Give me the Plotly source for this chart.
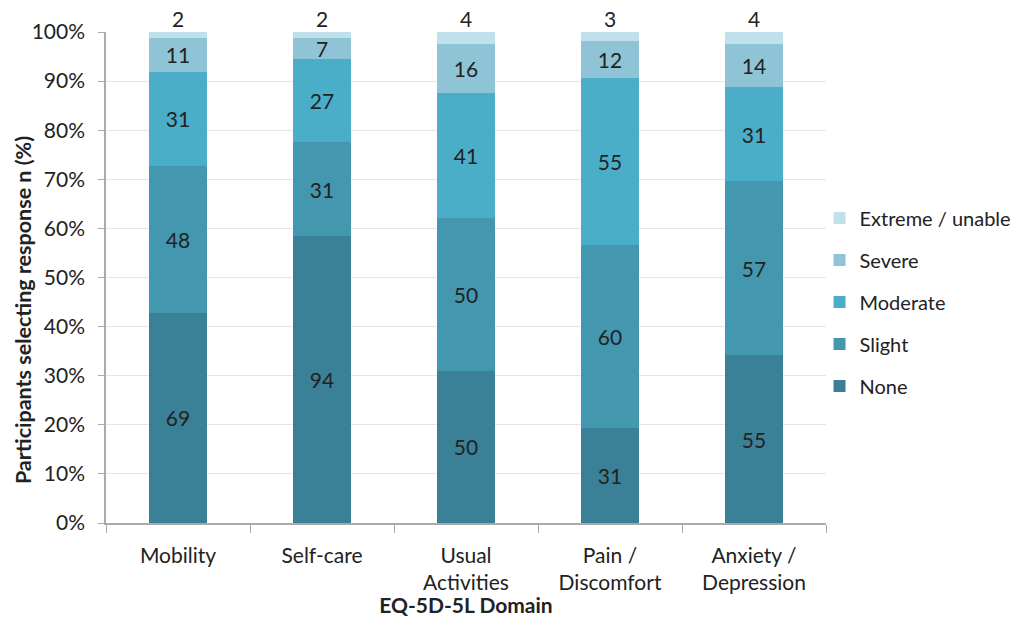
import plotly.graph_objects as go

categories = ["Mobility", "Self-care", "Usual<br>Activities", "Pain /<br>Discomfort", "Anxiety /<br>Depression"]
none_vals = [69, 94, 50, 31, 55]
slight_vals = [48, 31, 50, 60, 57]
moderate_vals = [31, 27, 41, 55, 31]
severe_vals = [11, 7, 16, 12, 14]
extreme_vals = [2, 2, 4, 3, 4]

series = [
    ("None", none_vals, "rgb(58,128,150)"),
    ("Slight", slight_vals, "rgb(67,152,176)"),
    ("Moderate", moderate_vals, "rgb(75,174,200)"),
    ("Severe", severe_vals, "rgb(142,196,214)"),
    ("Extreme / unable", extreme_vals, "rgb(192,225,236)"),
]

FONT = "Lato, 'Open Sans', sans-serif"
TXT = "#222"
fig = go.Figure()
n = len(series)
for i, (name, vals, col) in enumerate(series):
    is_top = name.startswith("Extreme")
    fig.add_trace(go.Bar(
        x=categories, y=vals, name=name, marker_color=col, marker_line_width=0,
        text=None if is_top else [str(v) for v in vals],
        textposition="inside", insidetextanchor="middle",
        textangle=0, constraintext="none",
        textfont=dict(size=21, color=TXT, family=FONT),
        legendgroup=name, legendrank=n - i, hoverinfo="skip",
    ))

fig.add_trace(go.Scatter(
    x=categories, y=[100] * len(categories), mode="text",
    text=[str(v) for v in extreme_vals], textposition="top center",
    textfont=dict(size=21, color=TXT, family=FONT),
    showlegend=False, hoverinfo="skip", cliponaxis=False,
))

fig.update_layout(
    barmode="stack", barnorm="percent", bargap=0.6,
    width=1019, height=617,
    margin=dict(l=106, r=193, t=32, b=94, autoexpand=False),
    plot_bgcolor="white", paper_bgcolor="white",
    font=dict(family=FONT, size=21, color=TXT),
    legend=dict(x=0.991, y=0.45, xanchor="left", yanchor="middle",
                traceorder="grouped", tracegroupgap=13,
                font=dict(size=20), itemwidth=30, bgcolor="rgba(0,0,0,0)"),
    xaxis=dict(
        title=dict(text="<b>EQ-5D-5L Domain</b>", font=dict(size=21), standoff=0),
        showline=True, linecolor="#aaa", linewidth=1.5,
        ticks="outside", tickson="boundaries", ticklen=8, tickcolor="#aaa",
        tickfont=dict(size=21), ticklabelstandoff=13,
    ),
    yaxis=dict(
        range=[0, 100], dtick=10, ticksuffix="%",
        showline=True, linecolor="#aaa", linewidth=1.5,
        gridcolor="#dfe6ee", gridwidth=1,
        ticks="outside", ticklen=6, tickcolor="#aaa",
        tickfont=dict(size=21), ticklabelstandoff=9,
    ),
    annotations=[dict(
        text="<b>Participants selecting response n (%)</b>",
        xref="paper", yref="paper", x=-0.115, y=0.434,
        xanchor="center", yanchor="middle", textangle=-90,
        showarrow=False, font=dict(size=21.5, color=TXT, family=FONT),
    )],
)

fig.write_html("out.html")
